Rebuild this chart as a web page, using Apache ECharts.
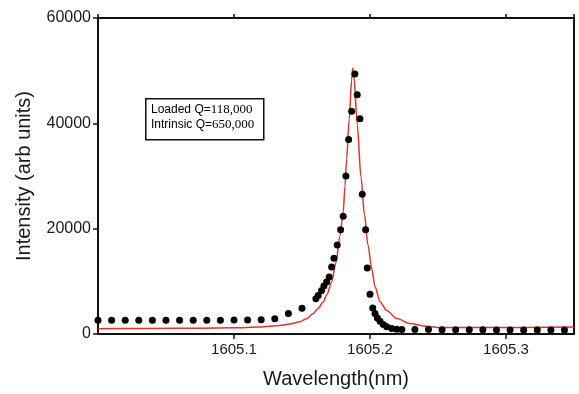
<!DOCTYPE html>
<html>
<head>
<meta charset="utf-8">
<script src="https://cdn.jsdelivr.net/npm/echarts@6/dist/echarts.min.js"></script>
<style>html,body{margin:0;padding:0;background:#fff}#c{width:579px;height:394px}</style>
</head>
<body>
<div id="c"></div>
<script>
// Measured data points (wavelength nm, intensity)
const dotWavelength = [
  1605.00,1605.01,1605.02,1605.03,1605.04,1605.05,1605.06,1605.07,1605.08,1605.09,
  1605.10,1605.11,1605.12,1605.13,1605.14,1605.15,
  1605.1602,1605.1619,1605.1644,1605.1661,1605.1681,1605.1700,1605.1718,1605.1735,
  1605.1759,1605.1784,1605.1803,1605.1823,1605.1843,1605.1865,1605.1889,1605.1906,
  1605.1926,1605.1943,1605.1968,1605.1980,1605.2000,1605.2020,1605.2037,1605.2054,
  1605.2074,1605.2098,1605.2123,1605.2160,1605.2197,1605.2234,
  1605.233,1605.243,1605.253,1605.263,1605.273,1605.283,1605.293,1605.303,1605.313,1605.323,1605.333,1605.343
];
const dotIntensity = [
  2610,2610,2610,2610,2610,2610,2610,2610,2610,2620,
  2640,2650,2700,2900,3870,4900,
  6710,7330,8280,9110,9870,10810,12700,14400,
  16920,19810,22340,30010,36950,42300,49370,45450,
  40860,26550,19810,12510,7560,4950,3870,3060,
  2420,1800,1360,1040,910,850,
  850,850,820,820,800,800,780,780,760,760,740,740
];
// Fitted curve
const fitWavelength = [
  1605.0000,1605.0379,1605.0747,1605.1005,1605.1189,1605.1337,1605.1410,1605.1484,1605.1536,1605.1582,
  1605.1617,1605.1656,1605.1683,1605.1718,1605.1749,1605.1779,1605.1803,1605.1816,1605.1828,1605.1847,
  1605.1865,1605.1873,1605.1882,1605.1906,1605.1934,1605.1959,1605.1985,1605.2013,1605.2037,1605.2074,
  1605.2123,1605.2197,1605.2295,1605.2418,1605.2516,1605.2811,1605.3500
];
const fitIntensity = [
  1000,1040,1115,1170,1320,1610,1890,2310,2930,3870,
  4820,6090,7470,9870,13510,18620,23150,28070,33170,40730,
  48290,50500,48860,39780,29770,22680,16920,12380,8980,6140,
  4440,2930,1985,1470,1230,1230,1320
];
const yTicks = [0, 20000, 40000, 60000];
const xTickLabels = ['1605.1','1605.2','1605.3'];
const annotationLabels = ['Loaded Q=', 'Intrinsic Q='];
const annotationValues = ['118,000', '650,000'];

const dots = dotWavelength.map((x, i) => [x, dotIntensity[i]]);
const fit = fitWavelength.map((x, i) => [x, fitIntensity[i]]);

const chart = echarts.init(document.getElementById('c'), null, {renderer: 'canvas'});
const lineStyle = {color: '#111', width: 2};
chart.setOption({
  animation: false,
  backgroundColor: '#fff',
  grid: {left: 98, right: 5, top: 18, bottom: 58.5, containLabel: false},
  xAxis: [{
    type: 'value', min: 1605.0, max: 1605.35, interval: 0.1, position: 'bottom',
    axisLine: {show: true, onZero: false, lineStyle},
    axisTick: {show: true, inside: false, length: 5, lineStyle: {color: '#111', width: 1.5}},
    splitLine: {show: false},
    axisLabel: {
      showMinLabel: false, showMaxLabel: false, margin: 8,
      fontFamily: 'Liberation Sans, Arial', fontSize: 15, color: '#1a1a1a',
      formatter: v => { const s = v.toFixed(1); return xTickLabels.includes(s) ? s : ''; }
    },
    name: 'Wavelength(nm)', nameLocation: 'middle', nameGap: 35,
    nameTextStyle: {fontFamily: 'Liberation Sans, Arial', fontSize: 20, color: '#1a1a1a'}
  }, {
    type: 'value', min: 1605.0, max: 1605.35, interval: 0.1, position: 'top',
    axisLine: {show: true, onZero: false, lineStyle},
    axisTick: {show: true, inside: false, length: 4, lineStyle: {color: '#111', width: 1.5}},
    splitLine: {show: false}, axisLabel: {show: false}
  }],
  yAxis: [{
    type: 'value', min: 0, max: 60000, interval: 20000, position: 'left',
    axisLine: {show: true, onZero: false, lineStyle},
    axisTick: {show: true, inside: false, length: 5, lineStyle: {color: '#111', width: 1.5}},
    splitLine: {show: false},
    axisLabel: {
      margin: 7, fontFamily: 'Liberation Sans, Arial', fontSize: 16, color: '#1a1a1a',
      formatter: v => yTicks.includes(v) ? String(v) : ''
    },
    name: 'Intensity (arb units)', nameLocation: 'middle', nameGap: 64,
    nameTextStyle: {fontFamily: 'Liberation Sans, Arial', fontSize: 20, color: '#1a1a1a'}
  }, {
    type: 'value', min: 0, max: 60000, interval: 20000, position: 'right',
    axisLine: {show: true, onZero: false, lineStyle},
    axisTick: {show: false}, splitLine: {show: false}, axisLabel: {show: false}
  }],
  series: [{
    type: 'line', data: fit, xAxisIndex: 0, yAxisIndex: 0,
    showSymbol: false, smooth: 0.3, smoothMonotone: 'x',
    lineStyle: {color: '#e0342c', width: 1.5}, z: 2
  }, {
    type: 'scatter', data: dots, xAxisIndex: 0, yAxisIndex: 0,
    symbol: 'circle', symbolSize: 7,
    itemStyle: {color: '#050505', opacity: 1}, z: 3
  }],
  graphic: [{
    type: 'rect', left: 145, top: 98,
    shape: {width: 118, height: 41},
    style: {fill: '#fff', stroke: '#111', lineWidth: 1.5}, z: 10
  }, {
    type: 'text', left: 151, top: 103, z: 11,
    style: {
      text: annotationLabels.map((l, i) => '{a|' + l + '}{b|' + annotationValues[i] + '}').join('\n'),
      rich: {
        a: {fontFamily: 'Liberation Sans, Arial', fontSize: 12, color: '#111', lineHeight: 15},
        b: {fontFamily: 'Liberation Serif, Times New Roman', fontSize: 13, color: '#111', lineHeight: 15}
      }
    }
  }]
});
</script>
</body>
</html>
